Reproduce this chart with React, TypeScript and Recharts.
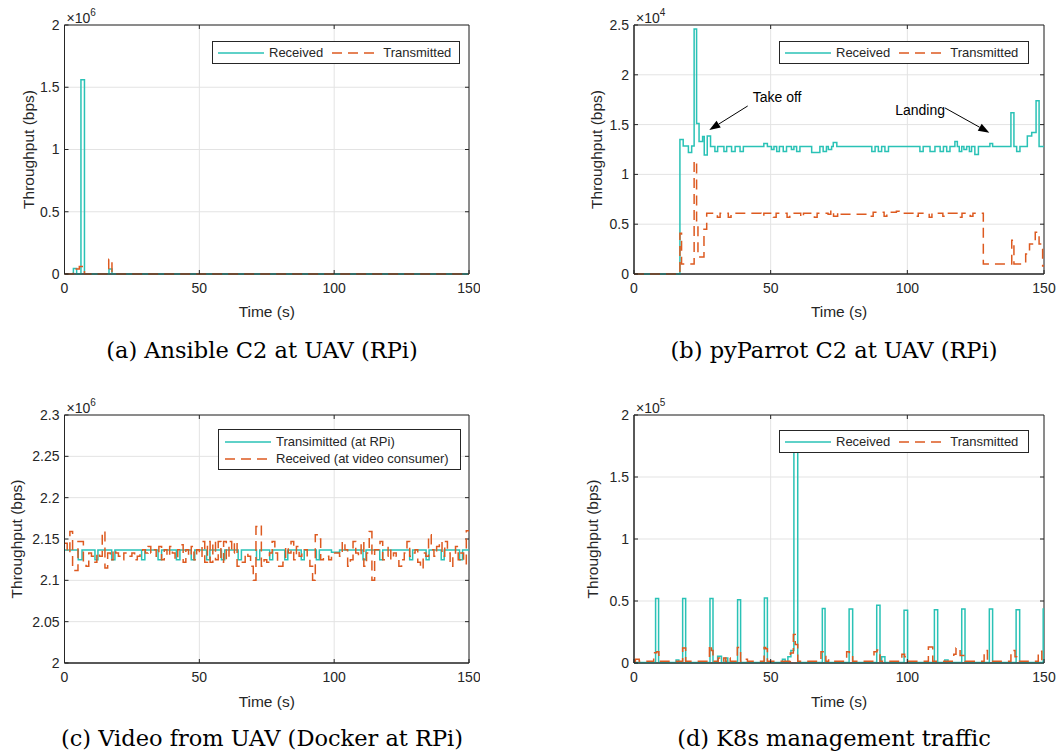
import React from 'react';
import { LineChart, Line, XAxis, YAxis, CartesianGrid, Legend, ReferenceLine, ReferenceArea } from 'recharts';

const TEAL = '#2ac2b6';
const ORANGE = '#dd5a20';
const INK = '#262626';
const GRID = '#e3e3e3';
const DASH = '10 6';

const timeTicks = [0, 50, 100, 150];

// values are in the units shown on each y axis (x10^power bps), [time s, value] step points

// (a) Ansible C2 at UAV (RPi), x10^6
const ansibleReceived = [[0, 0], [3.3, 0.045], [4.5, 0], [6.1, 1.56], [7.4, 0], [16.5, 0.04], [17.6, 0], [150, 0]];
const ansibleTransmitted = [[0, 0], [3.2, 0.04], [5.5, 0.06], [7.4, 0], [16.4, 0.118], [17.6, 0], [150, 0]];
const ansibleTicks = [0, 0.5, 1, 1.5, 2];

// (b) pyParrot C2 at UAV (RPi), x10^4
const parrotReceived = [
  [0, 0], [16.8, 1.35], [18.0, 1.285], [19.9, 1.22], [21.1, 1.285], [22.0, 2.46], [22.9, 1.51], [23.8, 1.33],
  [25.1, 1.38], [25.7, 1.195], [26.8, 1.385], [28.0, 1.28], [29.6, 1.23], [30.6, 1.28], [32.9, 1.23], [33.9, 1.28],
  [35.7, 1.23], [37.0, 1.28], [38.8, 1.23], [40.0, 1.28], [47.5, 1.31], [48.8, 1.28], [50.3, 1.25], [51.2, 1.28],
  [52.2, 1.23], [53.2, 1.28], [54.6, 1.23], [55.8, 1.28], [57.6, 1.25], [58.5, 1.28], [59.5, 1.23], [60.7, 1.28],
  [65.0, 1.22], [68.0, 1.28], [69.2, 1.23], [70.4, 1.28], [71.1, 1.25], [72.3, 1.28], [72.9, 1.32], [74.2, 1.28],
  [87.0, 1.23], [88.2, 1.28], [89.4, 1.23], [90.6, 1.28], [91.8, 1.23], [93.1, 1.28], [104.6, 1.23], [105.8, 1.28],
  [108.3, 1.23], [110.1, 1.28], [112.0, 1.23], [113.2, 1.28], [114.4, 1.23], [115.6, 1.28], [117.4, 1.33], [118.3, 1.28],
  [119.0, 1.23], [119.9, 1.28], [120.7, 1.25], [121.7, 1.28], [122.7, 1.23], [123.5, 1.28], [124.7, 1.2], [126.0, 1.28],
  [130.2, 1.31], [131.2, 1.28], [137.9, 1.62], [139.0, 1.28], [140.0, 1.23], [141.2, 1.28], [143.9, 1.385], [145.5, 1.42],
  [147.1, 1.74], [148.2, 1.28], [150, 1.28],
];
const parrotTransmitted = [
  [0, 0], [16.8, 0.41], [17.4, 0.1], [22.0, 1.135], [22.9, 0.5], [23.4, 0.17], [25.6, 0.45], [26.6, 0.61],
  [30.5, 0.57], [31.5, 0.61], [34.5, 0.57], [35.5, 0.61], [46.5, 0.58], [47.5, 0.61], [51.0, 0.57], [52.0, 0.61],
  [56.0, 0.57], [57.0, 0.61], [61.0, 0.57], [62.0, 0.61], [66.0, 0.57], [67.0, 0.61], [71.0, 0.6], [72.0, 0.64],
  [73.0, 0.58], [74.5, 0.62], [75.5, 0.6], [86.5, 0.58], [87.5, 0.62], [91.5, 0.58], [92.5, 0.62], [96.0, 0.63],
  [97.0, 0.61], [103.0, 0.58], [104.0, 0.61], [108.0, 0.57], [109.0, 0.61], [113.0, 0.58], [114.0, 0.61], [119.0, 0.57],
  [120.0, 0.61], [123.0, 0.58], [124.0, 0.61], [127.8, 0.1], [138.2, 0.34], [139.0, 0.1], [143.3, 0.2], [144.7, 0.3],
  [146.8, 0.42], [148.2, 0.3], [149.5, 0.08], [150, 0.08],
];
const parrotTicks = [0, 0.5, 1, 1.5, 2, 2.5];
// annotation arrows: [start, end] in data units
const takeOffArrow = [[41.6, 1.687], [27.55, 1.446]];
const landingArrow = [[113.8, 1.667], [130.0, 1.419]];

// (c) Video from UAV (Docker at RPi), x10^6
const videoTransmitted = [
  [0, 2.1367], [5.1, 2.1248], [6.5, 2.1367], [11.3, 2.1248], [12.4, 2.1367], [17.5, 2.1248], [18.7, 2.1367],
  [28.6, 2.1248], [29.8, 2.1367], [34.7, 2.1248], [36, 2.1367], [41.5, 2.1248], [42.8, 2.1367], [47, 2.1248],
  [48.3, 2.1367], [52.7, 2.1248], [53.9, 2.1367], [58.2, 2.1248], [59.4, 2.1367], [64.4, 2.1248], [65.6, 2.1367],
  [71.2, 2.1248], [72.4, 2.1367], [76.1, 2.1248], [77.2, 2.1367], [81.7, 2.1248], [82.8, 2.1367], [87.8, 2.1248],
  [88.9, 2.1367], [93.4, 2.1248], [94.5, 2.1367], [99, 2.134], [102, 2.1367], [110.7, 2.1248], [111.8, 2.1367],
  [116.9, 2.1248], [118, 2.1367], [128, 2.1248], [129.1, 2.1367], [134.1, 2.1248], [135.2, 2.1367], [139.7, 2.1248],
  [140.8, 2.1367], [146.5, 2.1248], [147.6, 2.1367], [150, 2.1367],
];
// one value per second, t = 0..149
const videoReceived = [
  2.145, 2.133, 2.159, 2.112, 2.112, 2.147, 2.147, 2.122, 2.117, 2.133,
  2.129, 2.122, 2.133, 2.129, 2.159, 2.115, 2.133, 2.125, 2.137, 2.133,
  2.129, 2.125, 2.133, 2.133, 2.129, 2.133, 2.125, 2.129, 2.133, 2.137,
  2.133, 2.141, 2.133, 2.137, 2.129, 2.141, 2.125, 2.137, 2.129, 2.141,
  2.133, 2.125, 2.137, 2.143, 2.122, 2.137, 2.129, 2.141, 2.125, 2.137,
  2.129, 2.147, 2.122, 2.147, 2.122, 2.147, 2.125, 2.147, 2.122, 2.147,
  2.125, 2.147, 2.133, 2.147, 2.117, 2.122, 2.122, 2.133, 2.129, 2.117,
  2.100, 2.165, 2.167, 2.117, 2.125, 2.122, 2.133, 2.147, 2.133, 2.117,
  2.117, 2.122, 2.141, 2.133, 2.147, 2.125, 2.141, 2.129, 2.133, 2.137,
  2.125, 2.117, 2.100, 2.155, 2.150, 2.125, 2.129, 2.129, 2.125, 2.133,
  2.133, 2.133, 2.129, 2.147, 2.137, 2.117, 2.125, 2.147, 2.133, 2.129,
  2.147, 2.117, 2.133, 2.159, 2.100, 2.137, 2.137, 2.147, 2.125, 2.129,
  2.141, 2.125, 2.133, 2.129, 2.117, 2.125, 2.133, 2.147, 2.129, 2.133,
  2.137, 2.122, 2.114, 2.133, 2.129, 2.155, 2.137, 2.129, 2.141, 2.147,
  2.129, 2.147, 2.133, 2.117, 2.129, 2.141, 2.125, 2.133, 2.120, 2.160,
];
const videoTicks = [2, 2.05, 2.1, 2.15, 2.2, 2.25, 2.3];

// (d) K8s management traffic, x10^5
const k8sReceived = [
  [0, 0.004], [7.9, 0.52], [9.0, 0.004], [15.4, 0.025], [16.4, 0.004], [17.8, 0.52], [18.9, 0.004], [27.8, 0.52],
  [28.9, 0.004], [30.6, 0.055], [32.0, 0.004], [33.4, 0.04], [34.3, 0.004], [37.9, 0.51], [39.0, 0.004], [47.7, 0.525],
  [48.8, 0.004], [54.3, 0.03], [55.3, 0.004], [56.3, 0.05], [57.4, 0.1], [58.5, 1.85], [59.9, 0.004], [68.9, 0.44],
  [69.9, 0.004], [78.7, 0.435], [80.0, 0.004], [88.8, 0.465], [90.0, 0.004], [90.6, 0.05], [91.8, 0.004], [98.8, 0.425],
  [100.1, 0.004], [109.9, 0.43], [111.1, 0.004], [113.7, 0.025], [114.9, 0.004], [119.9, 0.435], [121.1, 0.004],
  [130.0, 0.435], [131.2, 0.004], [139.8, 0.43], [141.1, 0.004], [149.7, 0.435], [150, 0.435],
];
const k8sTransmitted = [
  [0, 0.015], [0.5, 0.03], [1.9, 0.015], [7.2, 0.083], [8.3, 0.09], [9.1, 0.015], [17.8, 0.12], [18.9, 0.015],
  [27.6, 0.145], [28.3, 0.1], [28.9, 0.015], [30.8, 0.04], [31.6, 0.015], [32.8, 0.04], [33.6, 0.015], [34.4, 0.04],
  [35.2, 0.015], [37.8, 0.125], [38.5, 0.1], [39.0, 0.015], [40.7, 0.03], [41.5, 0.015], [47.6, 0.125], [48.2, 0.115],
  [48.8, 0.015], [57.2, 0.08], [58.3, 0.23], [59.0, 0.15], [59.9, 0.015], [68.4, 0.09], [69.5, 0.065], [70.2, 0.015],
  [71.2, 0.025], [72.0, 0.015], [77.8, 0.09], [78.8, 0.06], [80.0, 0.015], [87.8, 0.09], [88.9, 0.105], [90.0, 0.015],
  [98.0, 0.07], [99.0, 0.05], [100.2, 0.015], [107.7, 0.13], [109.3, 0.015], [117.0, 0.07], [117.8, 0.12], [119.3, 0.06],
  [121.1, 0.015], [128.1, 0.1], [129.3, 0.015], [137.9, 0.1], [139.4, 0.05], [140.0, 0.015], [147.9, 0.095],
  [149.2, 0.015], [150, 0.015],
];
const k8sTicks = [0, 0.5, 1, 1.5, 2];

type Pt = { t: number; v: number };
const toPts = (pairs: number[][]): Pt[] => pairs.map(([t, v]) => ({ t, v }));
const perSecond = (vals: number[]): Pt[] => [...vals.map((v, i) => ({ t: i, v })), { t: vals.length, v: vals[vals.length - 1] }];

const fmt = (v: number) => String(Math.round(v * 100) / 100);

function LegendBox({ payload, order, vertical }: any) {
  const items = order.map((n: string) => (payload || []).find((p: any) => p.value === n)).filter(Boolean);
  return (
    <div
      style={{
        border: `1px solid ${INK}`,
        background: '#fff',
        boxSizing: 'border-box',
        display: 'flex',
        flexDirection: vertical ? 'column' : 'row',
        alignItems: vertical ? 'flex-start' : 'center',
        padding: vertical ? '3px 6px 2px 6px' : '3px 6px 3px 5px',
        height: vertical ? 41 : 23,
        fontSize: 13,
        lineHeight: '17px',
        color: INK,
        fontFamily: 'Liberation Sans, Arial, sans-serif',
      }}
    >
      {items.map((it: any, i: number) => (
        <div key={i} style={{ display: 'flex', alignItems: 'center', marginLeft: !vertical && i > 0 ? 9 : 0 }}>
          <svg width={46} height={8} style={{ marginRight: 5 }}>
            <line x1={0} y1={4} x2={46} y2={4} stroke={it.color} strokeWidth={1.5}
              strokeDasharray={it.payload?.strokeDasharray} />
          </svg>
          <span style={{ whiteSpace: 'nowrap' }}>{it.value}</span>
        </div>
      ))}
    </div>
  );
}

// "x10^n" multiplier above the top-left corner of the box
const exponent = (power: number) => (props: any) => {
  const vb = props.viewBox || { x: 0, y: 0 };
  return (
    <text x={vb.x + 2} y={vb.y - 2.5} fontSize={14} fill={INK}>
      ×10<tspan dy={-7} fontSize={10}>{power}</tspan>
    </text>
  );
};

// inward tick marks on the top and right edges of the box
const topTick = (p: any) => {
  const y = Math.min(p.y1, p.y2);
  return <line x1={p.x1} y1={y} x2={p.x1} y2={y + 4} stroke={INK} strokeWidth={1} />;
};
const rightTick = (p: any) => {
  const x = Math.max(p.x1, p.x2);
  return <line x1={x - 4} y1={p.y1} x2={x} y2={p.y1} stroke={INK} strokeWidth={1} />;
};

const arrowShape = (text: string, side: 'start' | 'end') => (p: any) => {
  const { x1, y1, x2, y2 } = p;
  const a = Math.atan2(y2 - y1, x2 - x1);
  const L = 11, W = 4;
  const bx = x2 - L * Math.cos(a), by = y2 - L * Math.sin(a);
  const pts = `${x2},${y2} ${bx + W * Math.sin(a)},${by - W * Math.cos(a)} ${bx - W * Math.sin(a)},${by + W * Math.cos(a)}`;
  return (
    <g>
      <line x1={x1} y1={y1} x2={bx} y2={by} stroke="#000" strokeWidth={1} />
      <polygon points={pts} fill="#000" />
      <text x={side === 'start' ? x1 + 5 : x1} y={side === 'start' ? y1 - 9 : y1 + 2} textAnchor={side}
        dominantBaseline="central" fontSize={14} fill="#000">{text}</text>
    </g>
  );
};

interface LineSpec { name: string; data: Pt[]; color: string; dash?: string }
interface PanelProps {
  left: number; top: number; width: number; yAxisWidth: number; marginRight: number;
  xAxisHeight: number; power: number; yTicks: number[]; yLabelOffset: number;
  lines: LineSpec[]; legend: { left: number; top: number; width: number; vertical?: boolean };
  children?: React.ReactNode;
}

function Panel(props: PanelProps) {
  const { left, top, width, yAxisWidth, marginRight, xAxisHeight, power, yTicks, yLabelOffset, lines, legend } = props;
  const yMin = yTicks[0];
  const yMax = yTicks[yTicks.length - 1];
  const order = lines.map((l) => l.name);
  return (
    <div style={{ position: 'absolute', left, top }}>
      <LineChart width={width} height={330} margin={{ top: 25, right: marginRight, bottom: 0, left: 0 }}>
        <CartesianGrid stroke={GRID} strokeWidth={1} />
        <XAxis dataKey="t" type="number" domain={[0, 150]} ticks={timeTicks} height={xAxisHeight}
          axisLine={{ stroke: INK }} tickLine={{ stroke: INK }} tickSize={-4} tickMargin={13}
          tick={{ fontSize: 14, fill: INK }}
          label={{ value: 'Time (s)', position: 'insideBottom', offset: 13, fontSize: 15.5, fill: INK }} />
        <YAxis type="number" domain={[yMin, yMax]} ticks={yTicks} width={yAxisWidth} tickFormatter={fmt}
          axisLine={{ stroke: INK }} tickLine={{ stroke: INK }} tickSize={-4} tickMargin={9}
          tick={{ fontSize: 14, fill: INK }}
          label={{ value: 'Throughput (bps)', angle: -90, position: 'insideLeft', offset: yLabelOffset,
            fontSize: 15.5, fill: INK, style: { textAnchor: 'middle' } }} />
        <ReferenceArea x1={0} x2={150} y1={yMin} y2={yMax} fill="none" stroke={INK} strokeWidth={1}
          ifOverflow="visible" label={{ content: exponent(power) }} />
        {timeTicks.slice(1, -1).map((t) => (
          <ReferenceLine key={`xt${t}`} x={t} stroke="none" shape={topTick} />
        ))}
        {yTicks.slice(1, -1).map((v) => (
          <ReferenceLine key={`yt${v}`} y={v} stroke="none" shape={rightTick} />
        ))}
        {lines.map((l) => (
          <Line key={l.name} name={l.name} data={l.data} dataKey="v" type="stepAfter" stroke={l.color}
            strokeWidth={1.5} strokeDasharray={l.dash} dot={false} activeDot={false} isAnimationActive={false} />
        ))}
        {props.children}
        <Legend layout="horizontal" verticalAlign="middle" align="center"
          wrapperStyle={{ left: legend.left, top: legend.top, width: legend.width, right: 'auto', bottom: 'auto' }}
          content={(p: any) => <LegendBox payload={p.payload} order={order} vertical={legend.vertical} />} />
      </LineChart>
    </div>
  );
}

const captionStyle = (cx: number, cy: number): React.CSSProperties => ({
  position: 'absolute', left: cx - 250, top: cy - 15, width: 500, textAlign: 'center',
  fontFamily: 'DejaVu Serif, serif', fontSize: 22.5, lineHeight: '30px', color: '#000',
});

export default function App() {
  return (
    <div style={{ position: 'absolute', left: 0, top: 0, width: 1059, height: 755, background: '#fff',
      fontFamily: 'Liberation Sans, Arial, sans-serif', overflow: 'hidden' }}>
      <Panel left={0} top={0} width={480} yAxisWidth={64.5} marginRight={11} xAxisHeight={56} power={6}
        yTicks={ansibleTicks} yLabelOffset={28}
        lines={[
          { name: 'Received', data: toPts(ansibleReceived), color: TEAL },
          { name: 'Transmitted', data: toPts(ansibleTransmitted), color: ORANGE, dash: DASH },
        ]}
        legend={{ left: 212, top: 41, width: 248 }} />
      <Panel left={570} top={0} width={489} yAxisWidth={64} marginRight={15} xAxisHeight={56} power={4}
        yTicks={parrotTicks} yLabelOffset={26}
        lines={[
          { name: 'Received', data: toPts(parrotReceived), color: TEAL },
          { name: 'Transmitted', data: toPts(parrotTransmitted), color: ORANGE, dash: DASH },
        ]}
        legend={{ left: 209, top: 41, width: 250 }}>
        <ReferenceLine segment={takeOffArrow.map(([x, y]) => ({ x, y }))} ifOverflow="visible"
          shape={arrowShape('Take off', 'start')} />
        <ReferenceLine segment={landingArrow.map(([x, y]) => ({ x, y }))} ifOverflow="visible"
          shape={arrowShape('Landing', 'end')} />
      </Panel>
      <Panel left={0} top={390} width={480} yAxisWidth={64.5} marginRight={11} xAxisHeight={57} power={6}
        yTicks={videoTicks} yLabelOffset={16}
        lines={[
          { name: 'Transimitted (at RPi)', data: toPts(videoTransmitted), color: TEAL },
          { name: 'Received (at video consumer)', data: perSecond(videoReceived), color: ORANGE, dash: DASH },
        ]}
        legend={{ left: 218, top: 39, width: 243, vertical: true }} />
      <Panel left={570} top={390} width={489} yAxisWidth={64} marginRight={15} xAxisHeight={57} power={5}
        yTicks={k8sTicks} yLabelOffset={22}
        lines={[
          { name: 'Received', data: toPts(k8sReceived), color: TEAL },
          { name: 'Transmitted', data: toPts(k8sTransmitted), color: ORANGE, dash: DASH },
        ]}
        legend={{ left: 209, top: 40, width: 250 }} />
      <div style={captionStyle(262, 350)}>(a) Ansible C2 at UAV (RPi)</div>
      <div style={captionStyle(834, 350)}>(b) pyParrot C2 at UAV (RPi)</div>
      <div style={captionStyle(262, 738)}>(c) Video from UAV (Docker at RPi)</div>
      <div style={captionStyle(834, 738)}>(d) K8s management traffic</div>
    </div>
  );
}
